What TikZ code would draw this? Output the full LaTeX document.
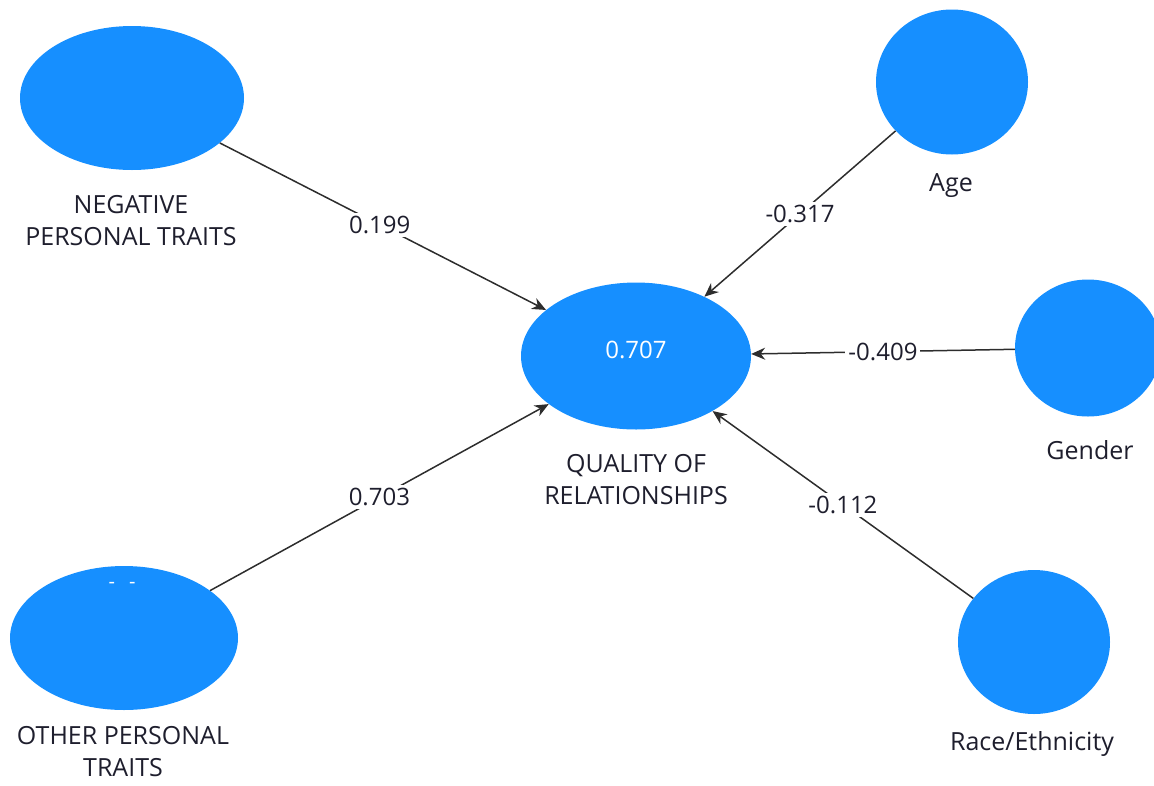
\documentclass[tikz,border=0pt]{standalone}
\usepackage{fontspec}
\setmainfont{Open Sans}
\usetikzlibrary{shapes.geometric,arrows.meta}
\definecolor{latent}{RGB}{22,143,255}
\definecolor{txt}{RGB}{30,30,45}
\definecolor{edge}{RGB}{45,45,45}
\begin{document}
\begin{tikzpicture}[x=1pt,y=-1pt,
  latentvar/.style={ellipse,fill=latent,draw=none,inner sep=0pt},
  caption/.style={font=\fontsize{25}{32}\selectfont,text=txt,align=center,inner sep=0pt},
  pathcoef/.style={font=\fontsize{24}{28}\selectfont,text=txt,fill=white,inner sep=3pt},
  link/.style={draw=edge,line width=1.5pt,-{Stealth[length=14pt,width=12pt]}}]
\useasboundingbox (0,0) rectangle (1154,785);
\node[latentvar,minimum width=224pt,minimum height=144pt] (neg) at (132,98) {};
\node[latentvar,minimum width=228pt,minimum height=144pt] (oth) at (124,638) {};
\node[latentvar,minimum width=230pt,minimum height=147pt] (qual) at (636,356) {};
\node[latentvar,minimum width=152pt,minimum height=145pt] (age) at (952,82) {};
\node[latentvar,minimum width=146pt,minimum height=137pt] (gen) at (1088,348) {};
\node[latentvar,minimum width=152pt,minimum height=144pt] (race) at (1034,642) {};
\node[font=\fontsize{24}{28}\selectfont,text=white,inner sep=0pt] (qualval) at (636,350) {0.707};
\node[font=\fontsize{20}{22}\selectfont,text=white,inner sep=0pt] (othmark) at (122,585) {-\hspace{14pt}-};
\node[caption] (negl) at (131,221) {NEGATIVE\\PERSONAL TRAITS};
\node[caption] (quall) at (636,480) {QUALITY OF\\RELATIONSHIPS};
\node[caption] (othl) at (123,752) {OTHER PERSONAL\\TRAITS};
\node[caption] (agel) at (951,186) {Age};
\node[caption] (genl) at (1090,450) {Gender};
\node[caption] (racel) at (1032,744) {Race/Ethnicity};
\draw[link] (neg) -- node[pathcoef,pos=0.49] {0.199} (qual);
\draw[link] (oth) -- node[pathcoef,pos=0.50] {0.703} (qual);
\draw[link] (age) -- node[pathcoef,pos=0.50] {-0.317} (qual);
\draw[link] (gen) -- node[pathcoef,pos=0.50] {-0.409} (qual);
\draw[link] (race) -- node[pathcoef,pos=0.50] {-0.112} (qual);
\end{tikzpicture}
\end{document}
